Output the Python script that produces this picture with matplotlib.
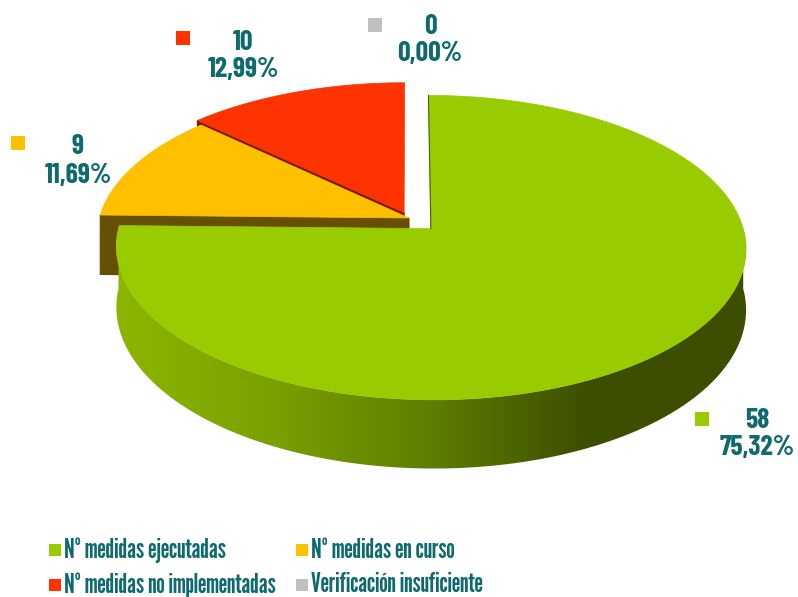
import numpy as np
import matplotlib
matplotlib.use("Agg")
import matplotlib.pyplot as plt
from matplotlib.patches import Polygon
from matplotlib.colors import LinearSegmentedColormap

# data
categories = ["Nº medidas ejecutadas", "Nº medidas en curso",
              "Nº medidas no implementadas", "Verificación insuficiente"]
values = [58, 9, 10, 0]

# styles / layout
top_colors = ["#99CC00", "#FFC000", "#FF3300", "#C0C0C0"]
face_colors = ["#4A6100", "#664F00", "#7A1800", "#606060"]
explode = [0.10, 0.0, 0.04, 0.0]
label_xy = [(757, 434), (78, 161), (243, 56), (430, 40)]
label_marker_xy = [(702, 419), (18, 143), (183, 38), (375, 25)]
text_col = "#0E6A6E"
plt.rcParams['font.family'] = ['League Gothic', 'Sofia Sans Extra Condensed',
                               'Barlow Condensed', 'DejaVu Sans']
label_font = ['Barlow Condensed', 'League Gothic', 'DejaVu Sans']

# pseudo-3d projection (screen pixels)
CX, CY = 409, 218
A, B, K, H = 309.6, 147.2, 0.1237, 59.6


def proj(u, v, depth=0.0):
    w = 1 - K * v
    return CX + A * u / w, CY + B * v / w + depth * H / w


def pt(th, r, off, depth=0.0):
    t = np.radians(th)
    return proj(off[0] + r * np.sin(t), off[1] - r * np.cos(t), depth)


fig = plt.figure(figsize=(7.98, 5.97), dpi=100)
ax = fig.add_axes([0, 0, 1, 1])
ax.axis("off")

total = sum(values)
fracs = [v / total for v in values]
starts = np.cumsum([0] + fracs[:-1]) * 360
ends = starts + np.array(fracs) * 360
mids = (starts + ends) / 2

offs = []
for i in range(len(values)):
    t = np.radians(mids[i])
    offs.append((explode[i] * np.sin(t), -explode[i] * np.cos(t)))

wall_cmap = LinearSegmentedColormap.from_list(
    "wall", ["#8CB600", "#7AA000", "#5E7E00", "#3D4E00", "#3D4E00"])

# back slices first
order = sorted(range(len(values)), key=lambda i: -np.cos(np.radians(mids[i])))
for i in order:
    if values[i] == 0:
        continue
    s, e, off = starts[i], ends[i], offs[i]
    # radial cut faces that look toward the viewer
    for th, nrm in [(s, s - 90), (e, e + 90)]:
        if -np.cos(np.radians(nrm)) > 1e-6:
            poly = [pt(th, 0, off), pt(th, 1, off), pt(th, 1, off, 1), pt(th, 0, off, 1)]
            ax.add_patch(Polygon(poly, closed=True, fc=face_colors[i],
                                 ec=face_colors[i], lw=0.8, joinstyle="round", zorder=2))
    # outer wall (front half)
    a0, a1 = max(s, 90), min(e, 270)
    if a1 > a0:
        ths = np.linspace(a0, a1, 400)
        poly = [pt(t, 1, off) for t in ths] + [pt(t, 1, off, 1) for t in ths[::-1]]
        if i == 0:
            wall = Polygon(poly, closed=True, fc="none", ec="none")
            ax.add_patch(wall)
            xs = [p[0] for p in poly]
            ys = [p[1] for p in poly]
            grad = np.linspace(0, 1, 256)[None, :]
            im = ax.imshow(grad, cmap=wall_cmap, aspect="auto", zorder=2,
                           extent=(min(xs), max(xs), max(ys), min(ys)))
            im.set_clip_path(wall)
        else:
            ax.add_patch(Polygon(poly, closed=True, fc=face_colors[i],
                                 ec=face_colors[i], lw=0.6, zorder=2))
    # top face
    ths = np.linspace(s, e, int((e - s) * 2) + 2)
    poly = [pt(0, 0, off)] + [pt(t, 1, off) for t in ths]
    ax.add_patch(Polygon(poly, closed=True, fc=top_colors[i], ec=top_colors[i],
                         lw=0.5, joinstyle="round", zorder=3))
    if i == 0:
        # edge-on cut face at 12 o'clock
        ax.plot(*zip(pt(0, 0, off), pt(0, 1, off)), color=face_colors[i], lw=0.8, zorder=3)

ax.set_xlim(0, 798)
ax.set_ylim(597, 0)

# data labels
for i in range(len(values)):
    lx, ly = label_xy[i]
    pct = f"{fracs[i] * 100:.2f}".replace(".", ",") + "%"
    ax.text(lx, ly, f"{values[i]}\n{pct}", ha="center", va="center",
            family=label_font, fontsize=20, fontweight="bold", color=text_col,
            linespacing=1.15, zorder=5)
    mx, my = label_marker_xy[i]
    ax.scatter([mx], [my], marker="s", s=110, color=top_colors[i], zorder=5,
               linewidths=0)

# legend
leg_pos = [(55, 550), (302, 550), (55, 585), (302, 585)]
for i, (lx, ly) in enumerate(leg_pos):
    ax.scatter([lx], [ly], marker="s", s=85, color=top_colors[i], zorder=5,
               linewidths=0)
    ax.text(lx + 9, ly, categories[i], ha="left", va="center", fontsize=19.5,
            fontweight="bold", color=text_col, zorder=5)

fig.savefig("out.png", dpi=100)
